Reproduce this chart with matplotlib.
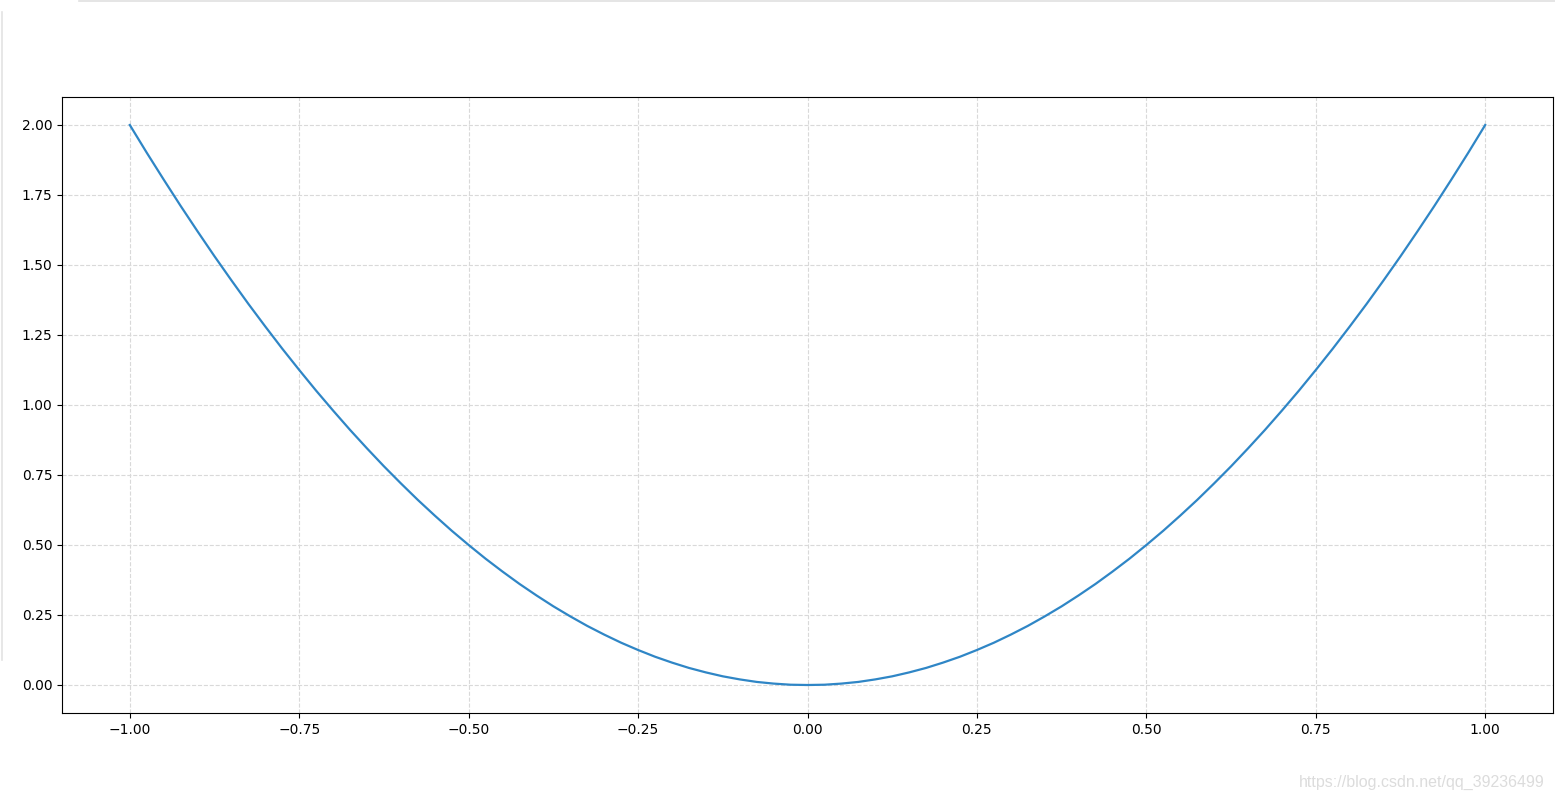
import numpy as np
import matplotlib
matplotlib.use('Agg')
import matplotlib.pyplot as plt
from matplotlib.lines import Line2D

# values, every 0.025 along x
x_vals = [-1.000, -0.975, -0.950, -0.925, -0.900, -0.875, -0.850, -0.825, -0.800, -0.775,
          -0.750, -0.725, -0.700, -0.675, -0.650, -0.625, -0.600, -0.575, -0.550, -0.525,
          -0.500, -0.475, -0.450, -0.425, -0.400, -0.375, -0.350, -0.325, -0.300, -0.275,
          -0.250, -0.225, -0.200, -0.175, -0.150, -0.125, -0.100, -0.075, -0.050, -0.025,
          0.000,
          0.025, 0.050, 0.075, 0.100, 0.125, 0.150, 0.175, 0.200, 0.225, 0.250,
          0.275, 0.300, 0.325, 0.350, 0.375, 0.400, 0.425, 0.450, 0.475, 0.500,
          0.525, 0.550, 0.575, 0.600, 0.625, 0.650, 0.675, 0.700, 0.725, 0.750,
          0.775, 0.800, 0.825, 0.850, 0.875, 0.900, 0.925, 0.950, 0.975, 1.000]
y_vals = [2.000, 1.901, 1.805, 1.711, 1.620, 1.531, 1.445, 1.361, 1.280, 1.201,
          1.125, 1.051, 0.980, 0.911, 0.845, 0.781, 0.720, 0.661, 0.605, 0.551,
          0.500, 0.451, 0.405, 0.361, 0.320, 0.281, 0.245, 0.211, 0.180, 0.151,
          0.125, 0.101, 0.080, 0.061, 0.045, 0.031, 0.020, 0.011, 0.005, 0.001,
          0.000,
          0.001, 0.005, 0.011, 0.020, 0.031, 0.045, 0.061, 0.080, 0.101, 0.125,
          0.151, 0.180, 0.211, 0.245, 0.281, 0.320, 0.361, 0.405, 0.451, 0.500,
          0.551, 0.605, 0.661, 0.720, 0.781, 0.845, 0.911, 0.980, 1.051, 1.125,
          1.201, 1.280, 1.361, 1.445, 1.531, 1.620, 1.711, 1.805, 1.901, 2.000]

fig = plt.figure(figsize=(15.55, 8), dpi=100)
ax = fig.add_axes([0.0399, 0.10875, 0.9588, 0.77])

ax.plot(x_vals, y_vals, color='#2f86c6', linewidth=1.6)
ax.grid(True, linestyle='--', color='#d9d9d9', linewidth=0.8)
ax.set_xticks([-1.0, -0.75, -0.5, -0.25, 0.0, 0.25, 0.5, 0.75, 1.0])
ax.set_yticks([0.0, 0.25, 0.5, 0.75, 1.0, 1.25, 1.5, 1.75, 2.0])
ax.tick_params(labelsize=10)
ax.set_xlim(-1.1, 1.1)
ax.set_ylim(-0.1, 2.1)

# screenshot leftovers: top rule and left panel edge
fig.add_artist(Line2D([0.051, 1.0], [0.999, 0.999], transform=fig.transFigure,
                      color='#e0e0e0', linewidth=1.2))
fig.add_artist(Line2D([0.0015, 0.0015], [0.175, 0.985], transform=fig.transFigure,
                      color='#e3e3e3', linewidth=1.2))

fig.text(0.9935, 0.012, 'https://blog.csdn.net/qq_39236499', ha='right', va='bottom',
         fontsize=11.5, color='#dcdcdc', family='Liberation Sans')

fig.savefig('out.png', dpi=100)
